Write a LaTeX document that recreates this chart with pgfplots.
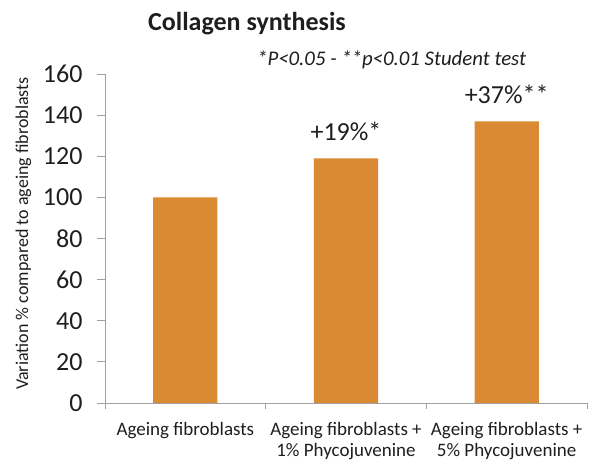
\documentclass[border=0pt]{standalone}
\usepackage{pgfplots}
\pgfplotsset{compat=1.18}
\usepackage{fontspec}
\setmainfont{Carlito}
\definecolor{barorange}{RGB}{217,138,51}
\definecolor{axisgray}{RGB}{160,160,160}
\definecolor{txt}{RGB}{30,30,30}
\begin{document}
\begin{tikzpicture}[x=1pt,y=1pt]
\path[use as bounding box] (0,0) rectangle (590,460);
\node[anchor=base west, inner sep=0pt, font=\fontsize{26}{30}\selectfont\bfseries, text=txt] at (148,429) {Collagen synthesis};
\node[anchor=base west, inner sep=0pt, font=\fontsize{20.8}{24}\selectfont\itshape, text=txt] at (257,394) {*P<0.05 - **p<0.01 Student test};
\begin{axis}[
  at={(105pt,57pt)}, anchor=south west,
  scale only axis, width=482pt, height=329pt,
  xmin=-0.5, xmax=2.5, ymin=0, ymax=160,
  axis x line*=bottom, axis y line*=left,
  axis line style={draw=axisgray, line width=0.8pt, -},
  /pgf/number format/assume math mode=true,
  ytick={0,20,...,160},
  yticklabel style={font=\fontsize{26}{30}\selectfont, text=txt, anchor=east, xshift=-11pt},
  ytick style={draw=axisgray, line width=0.8pt},
  tick align=outside, major tick length=8pt,
  xtick={0,1,2},
  xticklabels={Ageing fibroblasts, {Ageing fibroblasts +\\1\% Phycojuvenine}, {Ageing fibroblasts +\\5\% Phycojuvenine}},
  xticklabel style={font=\fontsize{19}{21}\selectfont, text=txt, align=center, yshift=-7.5pt},
  major x tick style={draw=none},
  minor xtick={-0.5,0.5,1.5,2.5},
  minor x tick style={draw=axisgray, line width=0.8pt},
  minor tick length=6pt,
  ylabel={Variation \% compared to ageing fibroblasts},
  ylabel style={font=\fontsize{18}{22}\selectfont, text=txt, at={(axis description cs:-0.169,0.515)}, anchor=center, rotate=0},
  ybar, bar width=0.4,
  nodes near coords, point meta=explicit symbolic,
  nodes near coords style={font=\fontsize{26}{30}\selectfont, text=txt, anchor=base, yshift=17.5pt},
]
\addplot[fill=barorange, draw=none] coordinates {(0,100) [] (1,119) [+19\%*] (2,137) [+37\%**]};
\end{axis}
\end{tikzpicture}
\end{document}
